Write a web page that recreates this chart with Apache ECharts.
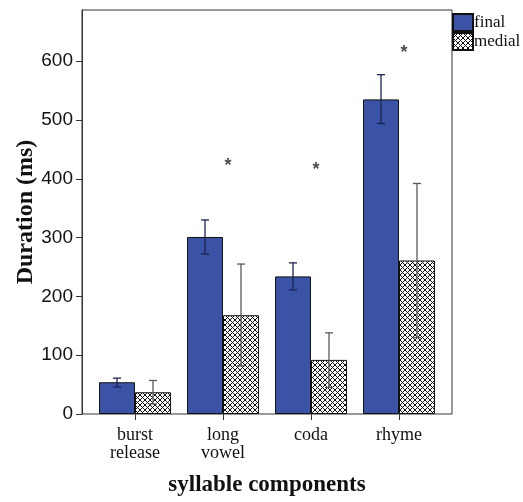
<!DOCTYPE html>
<html><head><meta charset="utf-8">
<script src="https://cdn.jsdelivr.net/npm/echarts@6/dist/echarts.min.js"></script>
<style>html,body{margin:0;padding:0;background:#fff}#c{width:523px;height:502px}</style>
</head><body><div id="c"></div>
<script>
const categories = ['burst\nrelease', 'long\nvowel', 'coda', 'rhyme'];
const finalValues = [54, 301, 234, 535];
const finalLow = [46, 272, 211, 494];
const finalHigh = [61, 330, 257, 577];
const medialValues = [37, 168, 92, 261];
const medialLow = [17, 82, 45, 130];
const medialHigh = [57, 255, 138, 392];
const starCategories = [1, 2, 3];
const starValues = [427, 420, 619];
const yTicks = [0, 100, 200, 300, 400, 500, 600];
const yMax = 687;

function makePattern() {
  const s = 5;
  const cv = document.createElement('canvas');
  cv.width = s; cv.height = s;
  const ctx = cv.getContext('2d');
  ctx.fillStyle = '#fff'; ctx.fillRect(0, 0, s, s);
  ctx.strokeStyle = '#111'; ctx.lineWidth = 1;
  ctx.beginPath();
  ctx.moveTo(0, 0); ctx.lineTo(s, s);
  ctx.moveTo(s, 0); ctx.lineTo(0, s);
  ctx.stroke();
  return cv;
}
const pattern = { image: makePattern(), repeat: 'repeat' };

function errSeries(low, high, offset, color) {
  return {
    type: 'custom', xAxisIndex: 1, yAxisIndex: 1, z: 5,
    data: low.map((l, i) => [i, l, high[i]]),
    renderItem: function (params, api) {
      const hi = api.coord([api.value(0), api.value(2)]);
      const lo = api.coord([api.value(0), api.value(1)]);
      const x = hi[0] + offset;
      const cap = 4;
      const st = { stroke: color, lineWidth: 1.3 };
      return { type: 'group', children: [
        { type: 'line', shape: { x1: x, y1: hi[1], x2: x, y2: lo[1] }, style: st },
        { type: 'line', shape: { x1: x - cap, y1: hi[1], x2: x + cap, y2: hi[1] }, style: st },
        { type: 'line', shape: { x1: x - cap, y1: lo[1], x2: x + cap, y2: lo[1] }, style: st }
      ]};
    }
  };
}

const chart = echarts.init(document.getElementById('c'));
chart.setOption({
  animation: false,
  backgroundColor: '#fff',
  grid: [
    { left: 82, top: 10, width: 370, height: 404, containLabel: false, outerBoundsMode: 'none',
      show: true, borderColor: '#333', borderWidth: 1, backgroundColor: 'transparent' },
    { left: 91, top: 10, width: 352, height: 404, containLabel: false, outerBoundsMode: 'none' }
  ],
  legend: {
    data: ['final', 'medial'], orient: 'vertical', left: 452, top: 13, padding: 0,
    itemWidth: 20, itemHeight: 17, itemGap: 0, icon: 'rect',
    textStyle: { fontFamily: 'Liberation Serif', fontSize: 17, color: '#111', padding: [0, 0, 0, -4] }
  },
  xAxis: [
    { type: 'value', gridIndex: 0, min: 0, max: 1, show: false },
    { type: 'category', gridIndex: 1, data: categories,
      axisLine: { show: false },
      axisTick: { show: true, alignWithLabel: true, length: 6, lineStyle: { color: '#333' } },
      axisLabel: { fontFamily: 'Liberation Serif', fontSize: 18, color: '#111', margin: 12, lineHeight: 18 },
      name: 'syllable components', nameLocation: 'middle', nameGap: 60, nameMoveOverlap: false,
      nameTextStyle: { fontFamily: 'Liberation Serif', fontSize: 23, fontWeight: 'bold', color: '#111' }
    }
  ],
  yAxis: [
    { type: 'value', gridIndex: 0, min: 0, max: yMax, interval: 100,
      splitLine: { show: false },
      axisLine: { show: true, lineStyle: { color: '#333' } },
      axisTick: { show: true, length: 6, customValues: yTicks, lineStyle: { color: '#333' } },
      axisLabel: { customValues: yTicks, fontFamily: 'Liberation Sans', fontSize: 19, color: '#111', margin: 9 },
      name: 'Duration (ms)', nameLocation: 'middle', nameGap: 44, nameRotate: 90, nameMoveOverlap: false,
      nameTextStyle: { fontFamily: 'Liberation Serif', fontSize: 24, fontWeight: 'bold', color: '#111' }
    },
    { type: 'value', gridIndex: 1, min: 0, max: yMax, show: false, splitLine: { show: false } }
  ],
  series: [
    { name: 'final', type: 'bar', xAxisIndex: 1, yAxisIndex: 1, data: finalValues,
      barWidth: 36, barGap: '0%',
      itemStyle: { color: '#3A53A6', borderColor: '#111', borderWidth: 1 } },
    { name: 'medial', type: 'bar', xAxisIndex: 1, yAxisIndex: 1, data: medialValues,
      barWidth: 36, barGap: '0%',
      itemStyle: { color: pattern, borderColor: '#111', borderWidth: 1 } },
    errSeries(finalLow, finalHigh, -18, '#1b2350'),
    errSeries(medialLow, medialHigh, 18, '#5a5a5a'),
    { type: 'scatter', xAxisIndex: 1, yAxisIndex: 1, symbolSize: 0, z: 6,
      data: starCategories.map((c, i) => [c, starValues[i]]),
      label: { show: true, position: 'inside', formatter: '*', offset: [5, 3],
        fontFamily: 'Liberation Sans', fontSize: 18, fontWeight: 'bold', color: '#222' } }
  ]
});
</script></body></html>
